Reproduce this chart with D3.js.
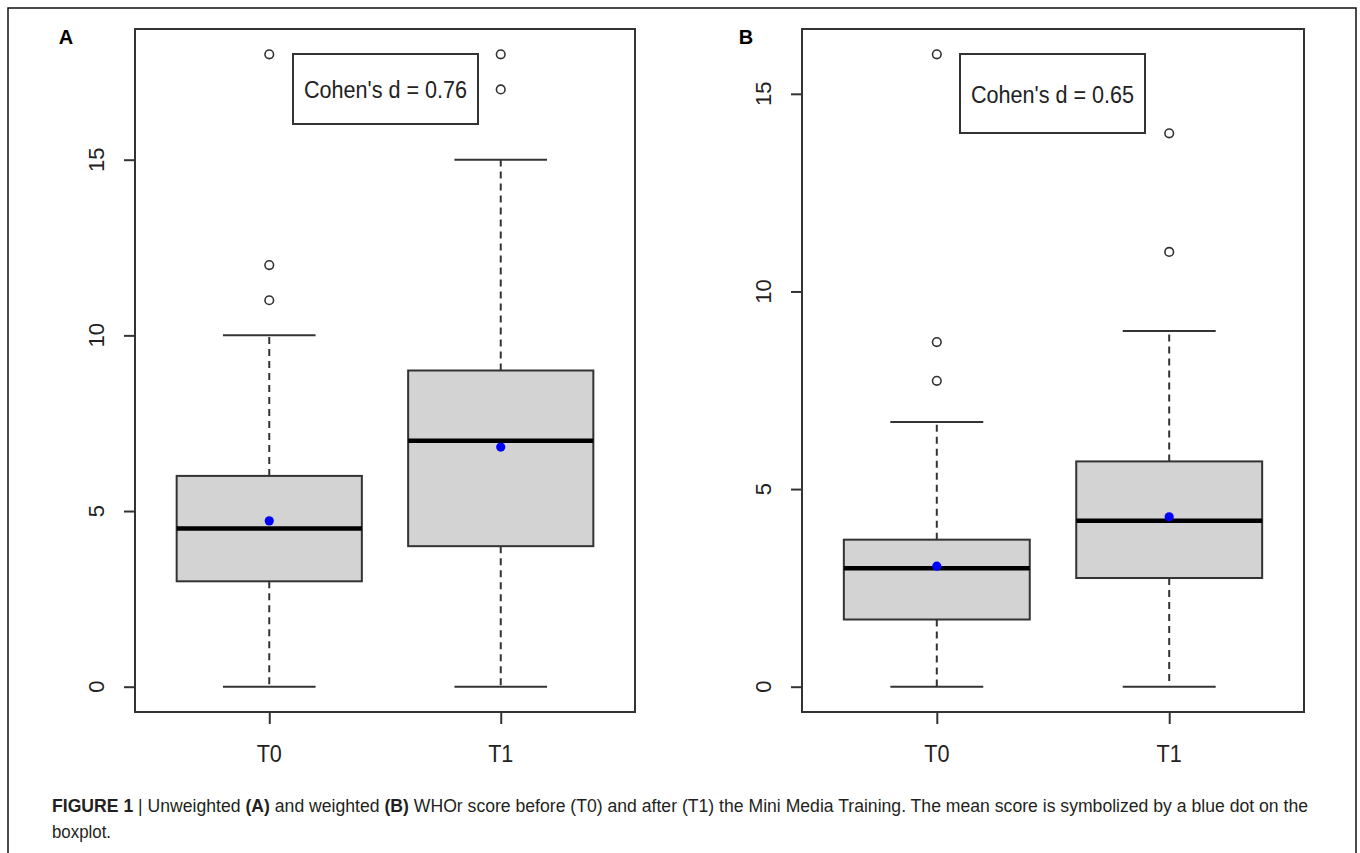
<!DOCTYPE html>
<html><head><meta charset="utf-8">
<script src="https://cdn.jsdelivr.net/npm/d3@7/dist/d3.min.js"></script>
<style>body{margin:0;background:#fff;} svg{display:block;}</style>
</head><body>
<svg id="chart" width="1360" height="853"></svg>
<script>
// ---- data ----
const groups = ["T0", "T1"];
const yTicksA = [0, 5, 10, 15];
const yTicksB = [0, 5, 10, 15];
// Panel A (unweighted)
const lowA = [0, 0];
const q1A = [3, 4];
const medA = [4.5, 7];
const q3A = [6, 9];
const highA = [10, 15];
const meanA = [4.72, 6.82];
const outliersA = [[11, 12, 18], [17, 18]];
// Panel B (weighted)
const lowB = [0, 0];
const q1B = [1.7, 2.75];
const medB = [3.0, 4.2];
const q3B = [3.72, 5.7];
const highB = [6.7, 9.0];
const meanB = [3.05, 4.3];
const outliersB = [[7.74, 8.72, 16], [11, 14]];
const cohenLabels = ["Cohen's d = 0.76", "Cohen's d = 0.65"];
const panelLetters = ["A", "B"];

const svg = d3.select("#chart");
const ink = "#333";
const font = "Liberation Sans, Arial, sans-serif";

// outer frame
svg.append("path").attr("d", "M8,860 L8,8 L1356,8 L1356,860")
  .attr("fill", "none").attr("stroke", "#111").attr("stroke-width", 1.5);

function panel(cfg) {
  const g = svg.append("g");
  const n = groups.length;
  const yMax = d3.max(cfg.outliers.flat().concat(cfg.high));
  const yMin = d3.min(cfg.low);
  const ext = (yMax - yMin) * 0.04;
  const y = d3.scaleLinear().domain([yMin - ext, yMax + ext]).range([cfg.bottom, cfg.top]);
  const x = d3.scaleLinear().domain([0.5 - 0.08, n + 0.5 + 0.08]).range([cfg.left, cfg.right]);
  const pos = groups.map((d, i) => i + 1);

  // y axis ticks
  const yAxis = d3.axisLeft(y).tickValues(cfg.yTicks).tickSize(11).tickFormat("");
  const ya = g.append("g").attr("transform", `translate(${cfg.left},0)`).call(yAxis);
  ya.select(".domain").remove();
  ya.selectAll("line").attr("stroke", ink).attr("stroke-width", 2);
  g.selectAll(".ylab").data(cfg.yTicks).join("text")
    .attr("transform", d => `translate(${cfg.left - 31},${y(d)}) rotate(-90)`)
    .attr("text-anchor", "middle")
    .attr("font-family", font)
    .attr("font-size", 22).attr("fill", "#222").text(d => d);

  // x axis ticks
  const xAxis = d3.axisBottom(x).tickValues(pos).tickSize(12).tickFormat("");
  const xa = g.append("g").attr("transform", `translate(0,${cfg.bottom})`).call(xAxis);
  xa.select(".domain").remove();
  xa.selectAll("line").attr("stroke", ink).attr("stroke-width", 2);
  g.selectAll(".xlab").data(groups).join("text")
    .attr("transform", (d, i) => `translate(${x(pos[i])},${cfg.bottom + 50}) scale(0.9,1)`)
    .attr("text-anchor", "middle")
    .attr("font-family", font)
    .attr("font-size", 24).attr("fill", "#222").text(d => d);

  // boxes
  const hw = 0.4, cw = 0.2;
  groups.forEach((grp, i) => {
    const p = pos[i];
    const bg = g.append("g");
    bg.append("line").attr("x1", x(p)).attr("x2", x(p))
      .attr("y1", y(cfg.q3[i])).attr("y2", y(cfg.high[i]))
      .attr("stroke", ink).attr("stroke-width", 2).attr("stroke-dasharray", "7,5");
    bg.append("line").attr("x1", x(p)).attr("x2", x(p))
      .attr("y1", y(cfg.q1[i])).attr("y2", y(cfg.low[i]))
      .attr("stroke", ink).attr("stroke-width", 2).attr("stroke-dasharray", "7,5");
    [cfg.high[i], cfg.low[i]].forEach(v => {
      bg.append("line").attr("x1", x(p - cw)).attr("x2", x(p + cw))
        .attr("y1", y(v)).attr("y2", y(v))
        .attr("stroke", ink).attr("stroke-width", 2);
    });
    bg.append("rect").attr("x", x(p - hw)).attr("width", x(p + hw) - x(p - hw))
      .attr("y", y(cfg.q3[i])).attr("height", y(cfg.q1[i]) - y(cfg.q3[i]))
      .attr("fill", "#d3d3d3").attr("stroke", ink).attr("stroke-width", 2);
    bg.append("line").attr("x1", x(p - hw)).attr("x2", x(p + hw))
      .attr("y1", y(cfg.med[i])).attr("y2", y(cfg.med[i]))
      .attr("stroke", "#000").attr("stroke-width", 4.5);
    bg.selectAll("circle.out").data(cfg.outliers[i]).join("circle")
      .attr("class", "out").attr("cx", x(p)).attr("cy", d => y(d)).attr("r", 4.3)
      .attr("fill", "none").attr("stroke", ink).attr("stroke-width", 1.6);
    bg.append("circle").attr("cx", x(p)).attr("cy", y(cfg.mean[i])).attr("r", 4.6)
      .attr("fill", "#0000ff");
  });

  // plot frame
  g.append("rect").attr("x", cfg.left).attr("y", cfg.top)
    .attr("width", cfg.right - cfg.left).attr("height", cfg.bottom - cfg.top)
    .attr("fill", "none").attr("stroke", ink).attr("stroke-width", 2);

  // Cohen's d legend box
  g.append("rect").attr("x", cfg.legend[0]).attr("y", cfg.legend[1])
    .attr("width", cfg.legend[2]).attr("height", cfg.legend[3])
    .attr("fill", "#fff").attr("stroke", ink).attr("stroke-width", 2);
  g.append("text")
    .attr("transform", `translate(${cfg.legend[0] + cfg.legend[2] / 2},${cfg.legend[1] + cfg.legend[3] / 2 + 9}) scale(0.9,1)`)
    .attr("text-anchor", "middle")
    .attr("font-family", font)
    .attr("font-size", 24).attr("fill", "#222").text(cfg.cohen);

  // panel letter
  g.append("text").attr("x", cfg.letterX).attr("y", 44)
    .attr("text-anchor", "middle")
    .attr("font-family", font)
    .attr("font-weight", "bold").attr("font-size", 20).attr("fill", "#000")
    .text(cfg.letter);
}

panel({left: 135, right: 635, top: 29, bottom: 712, yTicks: yTicksA,
  low: lowA, q1: q1A, med: medA, q3: q3A, high: highA, mean: meanA, outliers: outliersA,
  cohen: cohenLabels[0], legend: [293, 54, 185, 70], letter: panelLetters[0], letterX: 66});
panel({left: 802, right: 1304, top: 29, bottom: 712, yTicks: yTicksB,
  low: lowB, q1: q1B, med: medB, q3: q3B, high: highB, mean: meanB, outliers: outliersB,
  cohen: cohenLabels[1], legend: [960, 54, 185, 79], letter: panelLetters[1], letterX: 746});

// caption
const cap = svg.append("text").attr("x", 52).attr("y", 812)
  .attr("font-family", font)
  .attr("font-size", 17.5).attr("fill", "#231f20")
  .attr("textLength", 1256).attr("lengthAdjust", "spacingAndGlyphs");
cap.append("tspan").attr("font-weight", "bold").text("FIGURE 1");
cap.append("tspan").text(" | Unweighted ");
cap.append("tspan").attr("font-weight", "bold").text("(A)");
cap.append("tspan").text(" and weighted ");
cap.append("tspan").attr("font-weight", "bold").text("(B)");
cap.append("tspan").text(" WHOr score before (T0) and after (T1) the Mini Media Training. The mean score is symbolized by a blue dot on the");
svg.append("text").attr("x", 52).attr("y", 838)
  .attr("font-family", font)
  .attr("font-size", 17.5).attr("fill", "#231f20")
  .attr("textLength", 59).attr("lengthAdjust", "spacingAndGlyphs")
  .text("boxplot.");
</script>
</body></html>
